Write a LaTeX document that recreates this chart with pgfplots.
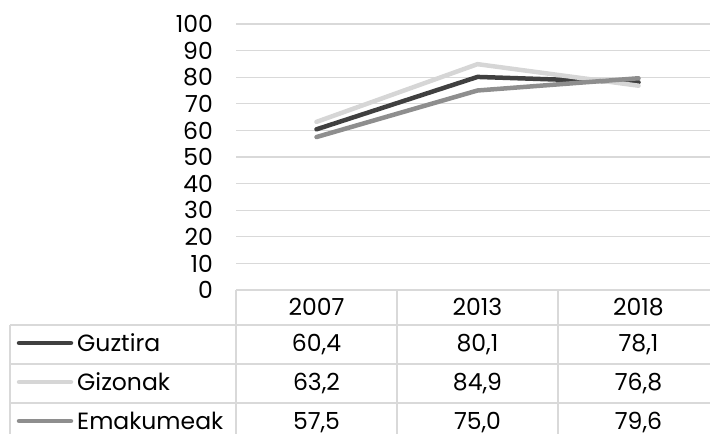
\documentclass[border=0pt]{standalone}
\usepackage{pgfplots}
\pgfplotsset{compat=1.18}
\usepackage{pgfplotstable}
\usepackage{fontspec}
\setmainfont{Poppins}

\definecolor{guz}{HTML}{404040}
\definecolor{giz}{HTML}{D6D6D6}
\definecolor{ema}{HTML}{8E8E8E}
\definecolor{gridc}{HTML}{D9D9D9}

\pgfplotstableread{
idx year Guztira Gizonak Emakumeak
0 2007 60.4 63.2 57.5
1 2013 80.1 84.9 75.0
2 2018 78.1 76.8 79.6
}\datatable

\begin{document}
\fontsize{23.5bp}{28bp}\selectfont
\begin{tikzpicture}[x=1bp,y=1bp]
\useasboundingbox (0,0) rectangle (710,434);
\begin{axis}[
	at={(236bp,144bp)}, anchor=south west,
	scale only axis, width=474bp, height=266bp,
	xmin=-0.5, xmax=2.444, ymin=0, ymax=100,
	ytick={0,10,...,100}, xtick=\empty,
	axis line style={draw=none},
	major tick length=0pt,
	ymajorgrids,
	grid style={line width=1.3bp, gridc},
	yticklabel style={font=\fontsize{23.5bp}{28bp}\selectfont,
		/pgf/number format/assume math mode=true,
		inner sep=0pt, xshift=-23bp},
	every axis plot/.append style={line width=4.5bp, line join=round, line cap=round},
]
\addplot[guz] table[x=idx, y=Guztira] {\datatable};
\addplot[giz] table[x=idx, y=Gizonak] {\datatable};
\addplot[ema] table[x=idx, y=Emakumeak] {\datatable};
\end{axis}

% data table under the chart
\begin{scope}[gridc, line width=1.3bp]
\draw (236,144) -- (710,144);
\draw (10,109) -- (710,109);
\draw (10,70) -- (710,70);
\draw (10,31) -- (710,31);
\draw (10,109) -- (10,0);
\draw (236,144) -- (236,0);
\draw (397,144) -- (397,0);
\draw (558,144) -- (558,0);
\end{scope}

\pgfkeys{/pgf/number format/.cd, fixed, fixed zerofill, precision=1, use comma, assume math mode=true}
\foreach \i/\x in {0/316.5, 1/477.5, 2/638.5} {
	\pgfplotstablegetelem{\i}{year}\of\datatable
	\node[anchor=base, inner sep=0pt] at (\x,118) {\pgfplotsretval};
	\foreach \s/\yb in {Guztira/82, Gizonak/43, Emakumeak/4} {
		\pgfplotstablegetelem{\i}{\s}\of\datatable
		\node[anchor=base, inner sep=0pt] at (\x,\yb) {\pgfmathprintnumber{\pgfplotsretval}};
	}
}
\foreach \s/\c/\yc/\yb in {Guztira/guz/91/82, Gizonak/giz/52/43, Emakumeak/ema/13/4} {
	\draw[\c, line width=4.5bp, line cap=round] (19,\yc) -- (71,\yc);
	\node[anchor=base west, inner sep=0pt] at (77,\yb) {\s};
}
\end{tikzpicture}
\end{document}
